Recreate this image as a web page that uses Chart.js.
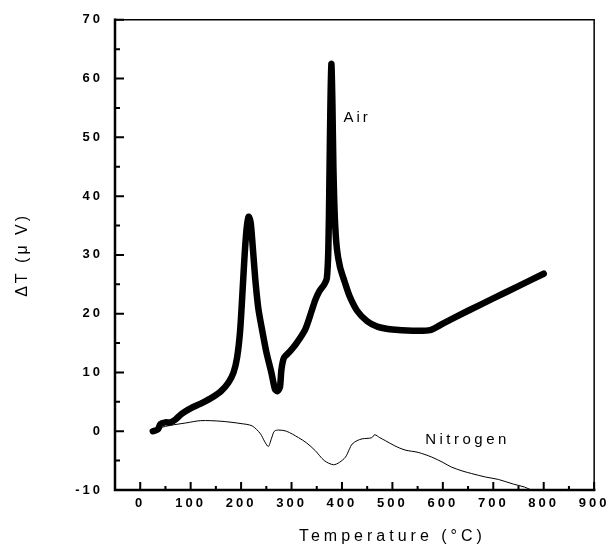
<!DOCTYPE html>
<html><head><meta charset="utf-8">
<script src="https://cdn.jsdelivr.net/npm/chart.js@4"></script>
<style>html,body{margin:0;padding:0;background:#fff}canvas{display:block}</style>
</head><body>
<canvas id="c" width="611" height="557"></canvas>
<script>
// ---- data ----
const airTemp = [25,35,40,50,60,70,80,90,100,120,140,160,175,185,192,198,203,207,211,215,219,223,228,234,240,250,260,267,272,277,280,285,295,310,327,340,347,355,365,370,373,375,377,379,381,383,386,390,396,405,415,430,450,470,500,540,575,600,650,700,750,800];
const airDT   = [0,0.3,1.2,1.5,1.5,2,2.8,3.4,3.9,4.7,5.6,6.8,8.3,10,12.5,17,24,30,34.5,36.5,35.5,31.5,26,21,18,13.5,10,7.2,6.8,7.5,10.5,12.5,13.4,15,17.3,20.5,22.3,23.8,25,26,31,42,55,62.5,56,45,36,31,28,25.5,23,20.5,18.7,17.8,17.3,17.1,17.2,18.3,20.5,22.6,24.7,26.8];
const n2Temp = [25,40,60,90,120,160,200,222,238,247,254,260,266,275,290,314,330,347,365,383,395,407,415,420,430,440,459,465,475,486,505,525,551,578,600,617,640,657,685,710,740,762,775];
const n2DT   = [0,0.6,1.0,1.4,1.8,1.7,1.3,0.9,-0.4,-1.8,-2.6,-1.3,0,0.2,0,-1.1,-2,-3.3,-5,-5.7,-5.3,-4.4,-3,-2.2,-1.6,-1.3,-1.1,-0.6,-1.1,-1.6,-2.5,-3.2,-3.6,-4.4,-5.3,-6.1,-6.8,-7.2,-7.8,-8.2,-9,-9.5,-10];
const seriesNames = ['Air','Nitrogen'];
const xTickValues = [0,100,200,300,400,500,600,700,800,900];
const xMinorValues = [50,150,250,350,450,550,650,750,850];
const yTickValues = [-10,0,10,20,30,40,50,60,70];
const yMinorValues = [-5,5,15,25,35,45,55,65];
const xTitle = 'Temperature (°C)';
const yTitle = 'ΔT (μ V)';

const toXY = (xs, ys) => xs.map((v, i) => ({x: v, y: ys[i]}));

const framePlugin = {
  id: 'frame',
  beforeDraw(chart) { chart.ctx.letterSpacing = '3px'; },
  afterDraw(chart) {
    const {ctx, chartArea: a, scales: {x, y}} = chart;
    ctx.save();
    ctx.strokeStyle = '#000';
    ctx.lineCap = 'square';
    ctx.lineWidth = 1.5;
    ctx.beginPath();
    ctx.moveTo(a.left, a.top); ctx.lineTo(a.right, a.top); ctx.lineTo(a.right, a.bottom);
    ctx.stroke();
    ctx.lineWidth = 2.5;
    ctx.beginPath();
    ctx.moveTo(a.left, a.top); ctx.lineTo(a.left, a.bottom); ctx.lineTo(a.right, a.bottom);
    ctx.stroke();
    ctx.lineWidth = 2;
    ctx.lineCap = 'butt';
    ctx.beginPath();
    xTickValues.forEach(v => { const p = x.getPixelForValue(v); ctx.moveTo(p, a.bottom); ctx.lineTo(p, a.bottom - 8); });
    xMinorValues.forEach(v => { const p = x.getPixelForValue(v); ctx.moveTo(p, a.bottom); ctx.lineTo(p, a.bottom - 4); });
    yTickValues.forEach(v => { const p = y.getPixelForValue(v); ctx.moveTo(a.left, p); ctx.lineTo(a.left + 9, p); });
    yMinorValues.forEach(v => { const p = y.getPixelForValue(v); ctx.moveTo(a.left, p); ctx.lineTo(a.left + 5, p); });
    ctx.stroke();
    ctx.fillStyle = '#000';
    ctx.font = '15px "Liberation Sans", Arial, sans-serif';
    ctx.letterSpacing = '3px';
    ctx.textAlign = 'left';
    ctx.textBaseline = 'middle';
    ctx.fillText(seriesNames[0], x.getPixelForValue(403), y.getPixelForValue(53.3));
    ctx.letterSpacing = '3.5px';
    ctx.fillText(seriesNames[1], x.getPixelForValue(565), y.getPixelForValue(-1.5));
    ctx.font = '16px "Liberation Sans", Arial, sans-serif';
    ctx.letterSpacing = '4px';
    ctx.textAlign = 'center';
    ctx.fillText(xTitle, x.getPixelForValue(500), 537);
    ctx.translate(23, y.getPixelForValue(30));
    ctx.rotate(-Math.PI / 2);
    ctx.letterSpacing = '3px';
    ctx.fillText(yTitle, 0, 0);
    ctx.restore();
  }
};

new Chart(document.getElementById('c'), {
  type: 'line',
  data: {
    datasets: [
      {label: seriesNames[0], data: toXY(airTemp, airDT), borderColor: '#000', borderWidth: 6.5,
       pointRadius: 0, tension: 0.25, fill: false, borderJoinStyle: 'round', borderCapStyle: 'round'},
      {label: seriesNames[1], data: toXY(n2Temp, n2DT), borderColor: '#000', borderWidth: 1,
       pointRadius: 0, tension: 0.3, fill: false}
    ]
  },
  options: {
    responsive: false,
    animation: false,
    events: [],
    layout: {padding: {left: 0, top: 12, right: 15, bottom: 0}},
    plugins: {legend: {display: false}, tooltip: {enabled: false}},
    scales: {
      x: {
        type: 'linear', min: -50, max: 900,
        afterBuildTicks: s => { s.ticks = xTickValues.map(v => ({value: v})); },
        afterFit: s => { s.height = 67; },
        grid: {display: false, drawTicks: false},
        border: {display: false},
        ticks: {color: '#000', padding: 6, maxRotation: 0, autoSkip: false,
                font: {family: '"Liberation Sans", Arial, sans-serif', size: 13, weight: 'bold'}}
      },
      y: {
        type: 'linear', min: -10, max: 70,
        afterBuildTicks: s => { s.ticks = yTickValues.map(v => ({value: v})); },
        afterFit: s => { s.width = 115; },
        grid: {display: false, drawTicks: false},
        border: {display: false},
        ticks: {color: '#000', padding: 12, autoSkip: false,
                font: {family: '"Liberation Sans", Arial, sans-serif', size: 13, weight: 'bold'}}
      }
    }
  },
  plugins: [framePlugin]
});
</script>
</body></html>
